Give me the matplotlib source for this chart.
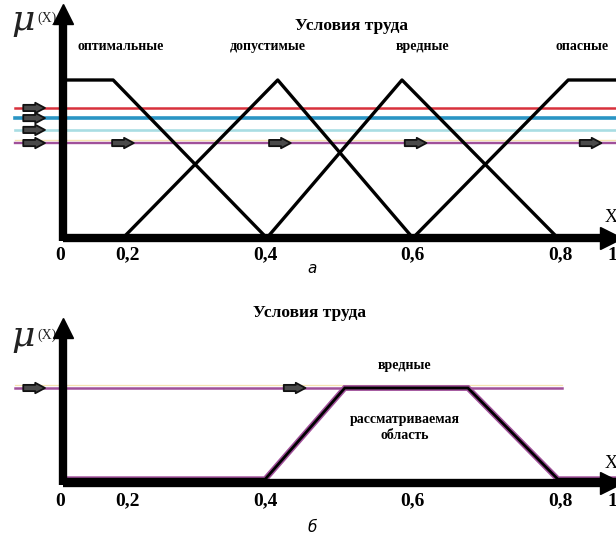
import matplotlib.pyplot as plt

# x is in drawing units: 0 at the vertical axis, 1 near the arrow tip
tick_labels = ["0", "0,2", "0,4", "0,6", "0,8", "1"]
tick_x = [-0.005, 0.119, 0.371, 0.642, 0.912, 1.007]

# panel a: membership functions
terms = ["оптимальные", "допустимые", "вредные", "опасные"]
term_label_x = [0.105, 0.376, 0.659, 0.952]
x_opt, y_opt = [0.0, 0.092, 0.374], [1, 1, 0]
x_dop, y_dop = [0.110, 0.394, 0.642], [0, 1, 0]
x_vred, y_vred = [0.374, 0.622, 0.908], [0, 1, 0]
x_opas, y_opas = [0.642, 0.927, 1.03], [0, 1, 1]

# alpha-cut levels (horizontal coloured lines)
levels = [0.823, 0.759, 0.684, 0.601]
level_colors = ["#d8313c", "#2a95c4", "#a9dde3", "#a0509a"]
level_widths = [1.8, 2.6, 1.9, 1.7]
arrows_a = [-0.078, 0.085, 0.373, 0.622, 0.943]

# panel b: considered region
x_reg = [0.0, 0.371, 0.517, 0.743, 0.908, 1.03]
y_reg = [0.04, 0.04, 1.0, 1.0, 0.04, 0.04]
level_b = 1.0
level_b_end = 0.916
arrows_b = [-0.078, 0.4]

fig = plt.figure(figsize=(6.16, 5.36), dpi=100)
ax_a = fig.add_axes([0, 0.5, 1, 0.5])
ax_b = fig.add_axes([0, 0, 1, 0.5])

serif = "Liberation Serif"


def block_arrow(ax, x, y):
    ax.annotate("", xy=(x + 0.05, y), xytext=(x, y),
                arrowprops=dict(arrowstyle="simple,head_width=0.75,head_length=0.7,tail_width=0.45",
                                fc="#4a4a4a", ec="#111111", lw=1.3), zorder=6)


def draw_axes(ax, ytop, ylabel_y, tick_y):
    ax.plot([0, 1.0], [0, 0], color="black", lw=6, solid_capstyle="butt", zorder=5)
    ax.plot([1.005], [0], marker=">", ms=16, color="black", zorder=5, clip_on=False)
    ax.plot([0, 0], [-0.02, ytop], color="black", lw=6, solid_capstyle="butt", zorder=5)
    ax.plot([0], [ytop], marker="^", ms=15, color="black", zorder=5)
    ax.text(-0.094, ylabel_y, "μ", fontsize=26, family="DejaVu Serif", style="italic",
            ha="left", va="center", color="#222222")
    ax.text(-0.047, ylabel_y + 0.01, "(X)", fontsize=10, family=serif,
            ha="left", va="center", color="#222222")
    for tx, tl in zip(tick_x, tick_labels):
        ax.text(tx, tick_y, tl, fontsize=14, family=serif, weight="bold",
                ha="center", va="top")


# ---- panel a ----
ax = ax_a
ax.set_xlim(-63 / 545, 553 / 545)
ax.set_ylim(-30 / 158, 238 / 158)
ax.axis("off")
for lv, c, w in zip(levels, level_colors, level_widths):
    ax.plot([-0.088, 1.03], [lv, lv], color=c, lw=w, zorder=2)
ax.plot([-0.088, 1.03], [levels[3] + 0.02, levels[3] + 0.02], color="#f5e3b0", lw=1.0, zorder=1)
for lv in levels:
    block_arrow(ax, arrows_a[0], lv)
for xa in arrows_a[1:]:
    block_arrow(ax, xa, levels[3])
for xs, ys in [(x_opt, y_opt), (x_dop, y_dop), (x_vred, y_vred), (x_opas, y_opas)]:
    ax.plot(xs, ys, color="black", lw=2.4, zorder=3)
draw_axes(ax, 1.42, 1.38, -0.055)
ax.text(0.53, 1.34, "Условия труда", fontsize=12.5, family=serif, weight="bold",
        ha="center", va="center")
for lx, t in zip(term_label_x, terms):
    ax.text(lx, 1.21, t, fontsize=10, family=serif, weight="bold", ha="center", va="center")
ax.text(1.005, 0.13, "X", fontsize=13, family=serif, ha="center", va="center")
ax.text(0.457, -0.19, "а", fontsize=11, family="DejaVu Sans", style="italic",
        ha="center", va="center")

# ---- panel b ----
ax = ax_b
ax.set_xlim(-63 / 545, 553 / 545)
ax.set_ylim(-53 / 95, 215 / 95)
ax.axis("off")
ax.plot([-0.088, level_b_end], [level_b, level_b], color="#a0509a", lw=1.8, zorder=2)
ax.plot([-0.088, level_b_end], [level_b + 0.03, level_b + 0.03], color="#f5e3b0", lw=0.9, zorder=1)
for xa in arrows_b:
    block_arrow(ax, xa, level_b)
ax.plot(x_reg, y_reg, color="#a0509a", lw=4.2, zorder=3, solid_joinstyle="miter")
ax.plot(x_reg, y_reg, color="black", lw=2.0, zorder=3, solid_joinstyle="miter")
draw_axes(ax, 1.63, 1.55, -0.1)
ax.text(0.453, 1.79, "Условия труда", fontsize=12.5, family=serif, weight="bold",
        ha="center", va="center")
ax.text(0.627, 1.24, "вредные", fontsize=10, family=serif, weight="bold", ha="center", va="center")
ax.text(0.627, 0.58, "рассматриваемая\nобласть", fontsize=10, family=serif, weight="bold",
        ha="center", va="center", linespacing=1.3)
ax.text(1.005, 0.2, "X", fontsize=13, family=serif, ha="center", va="center")
ax.text(0.457, -0.47, "б", fontsize=11, family="DejaVu Sans", style="italic",
        ha="center", va="center")

fig.savefig("out.png", dpi=100)
